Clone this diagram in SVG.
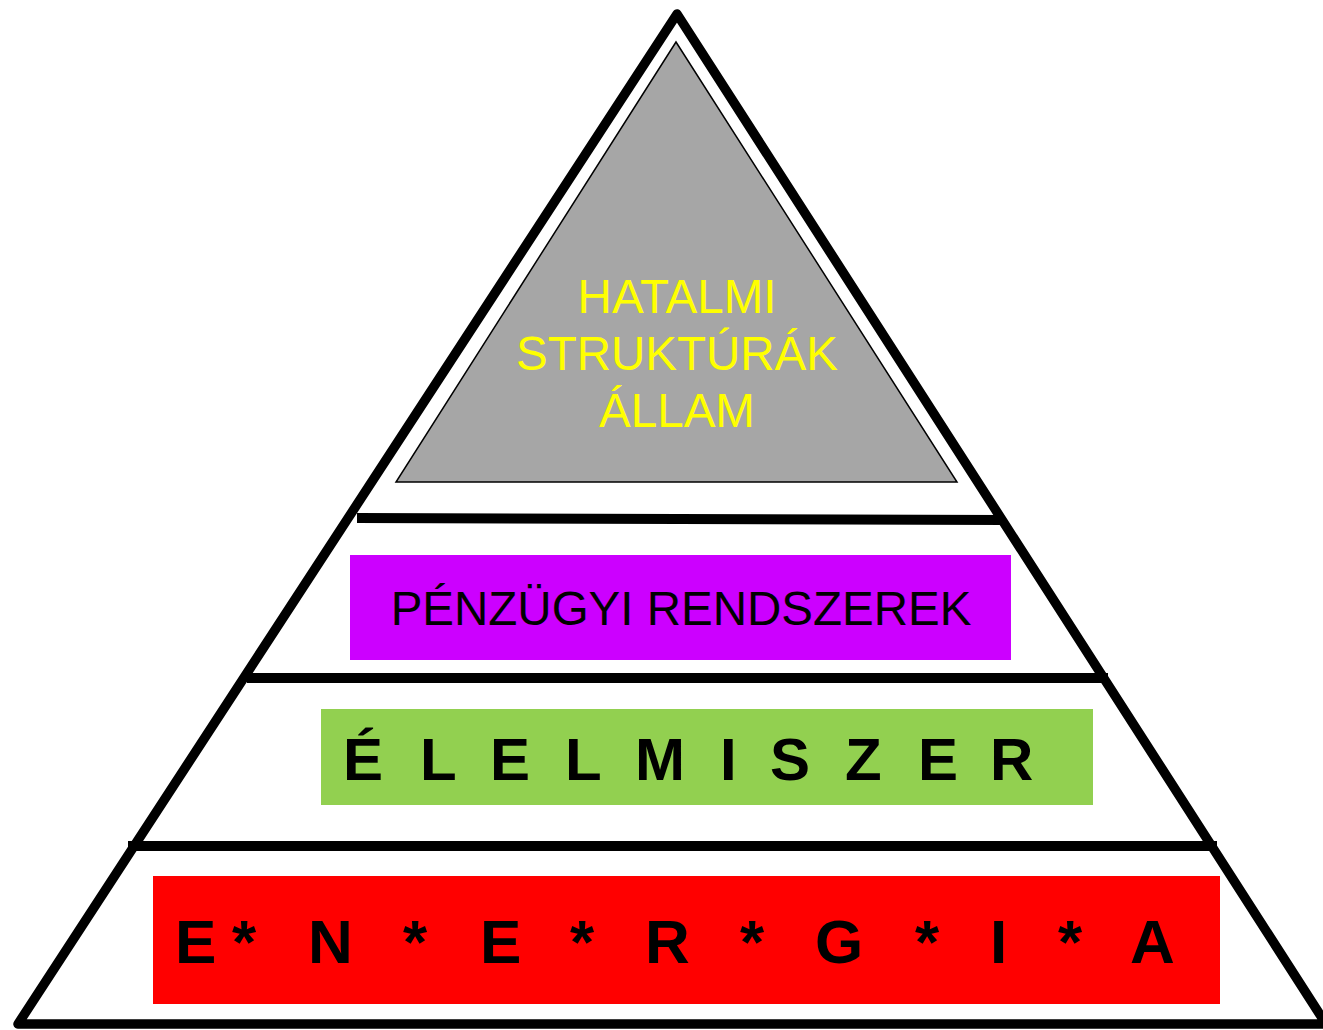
<svg xmlns="http://www.w3.org/2000/svg" width="1323" height="1030" viewBox="0 0 1323 1030">
<style>
.outline{fill:none;stroke:#000;stroke-width:9.5;stroke-linejoin:round}
.band{stroke:#000;stroke-width:10;stroke-linecap:butt}
.t{font-family:"Liberation Sans",Arial,sans-serif;text-anchor:middle}
.b{font-family:"Liberation Sans",Arial,sans-serif;font-weight:bold;fill:#000}
</style>
<rect width="1323" height="1030" fill="#fff"/>
<g id="pyramid">
<polygon class="outline" points="677,14 18,1024 1326,1024"/>
</g>
<g id="connectors">
<line class="band" x1="357" y1="518" x2="1003" y2="520"/>
<line class="band" x1="247" y1="678" x2="1108" y2="678"/>
<line class="band" x1="128" y1="846" x2="1217" y2="846"/>
</g>
<g id="hatalmi">
<polygon points="676,42 396,482 957,482" fill="#a6a6a6" stroke="#000" stroke-width="1.5"/>
<text class="t" fill="#ffff00" font-size="47.5" x="677" y="313">HATALMI</text>
<text class="t" fill="#ffff00" font-size="47.5" x="677" y="370">STRUKTÚRÁK</text>
<text class="t" fill="#ffff00" font-size="47.5" x="677" y="427">ÁLLAM</text>
</g>
<g id="penzugyi">
<rect x="350" y="555" width="661" height="105" fill="#cc00ff"/>
<text class="t" fill="#000" font-size="47.5" x="681" y="625">PÉNZÜGYI RENDSZEREK</text>
</g>
<g id="elelmiszer">
<rect x="321" y="709" width="772" height="96" fill="#92d050"/>
<text class="b" font-size="60" y="780" x="343 420 490 565 635 720 770 845 918 990">ÉLELMISZER</text>
</g>
<g id="energia">
<rect x="153" y="876" width="1067" height="128" fill="#ff0000"/>
<text class="b" font-size="62" y="963" x="175 232 308 403 480 570 645 740 815 915 990 1058 1130">E*N*E*R*G*I*A</text>
</g>
</svg>
